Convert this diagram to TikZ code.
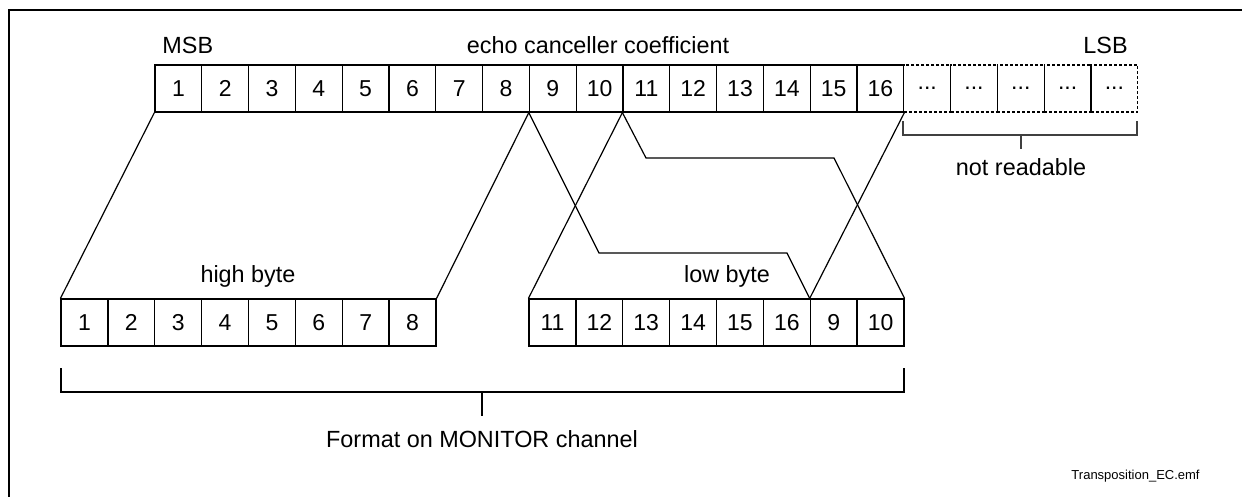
\documentclass[tikz,border=0pt]{standalone}
\usepackage{fontspec}
\setmainfont{Liberation Sans}
\begin{document}
\begin{tikzpicture}[x=0.5pt,y=-0.5pt,
  cell/.style={draw,line width=0.6pt,minimum width=23.4pt,minimum height=23.5pt,inner sep=0pt,font=\fontsize{11.5}{13}\selectfont},
  dcell/.style={cell,dash pattern=on 1.5pt off 1pt},
  lbl/.style={inner sep=0pt,font=\fontsize{11.7}{14}\selectfont},
  conn/.style={line width=0.6pt},
  brk/.style={line width=0.6pt}]
\useasboundingbox (0,0) rectangle (1242,497);
\draw[line width=1pt] (9,497) -- (9,10) -- (1242,10);
% top row
\foreach \i in {1,...,16}{
  \node[cell] (t\i) at ({155+(\i-0.5)*46.8},88.5) {\i};
}
\foreach \i in {1,...,5}{
  \node[dcell] (d\i) at ({903.8+(\i-0.5)*46.8},88.5) {...};
}
% bottom rows
\foreach \i in {1,...,8}{
  \node[cell] (h\i) at ({61+(\i-0.5)*46.875},322.5) {\i};
}
\foreach \v [count=\j] in {11,12,13,14,15,16,9,10}{
  \node[cell] (l\j) at ({529+(\j-0.5)*46.875},322.5) {\v};
}
% labels
\node[lbl,anchor=west] (msb) at (162,45) {MSB};
\node[lbl] (ecc) at (598,45) {echo canceller coefficient};
\node[lbl,anchor=east] (lsb) at (1128,45) {LSB};
\node[lbl] (hb) at (248,276) {high byte};
\node[lbl] (lb) at (727,276) {low byte};
\node[lbl] (nr) at (1021,167) {not readable};
\node[lbl] (fmt) at (482,439) {Format on MONITOR channel};
\node[inner sep=0pt,anchor=east,font=\fontsize{6.5}{8}\selectfont] (fn) at (1200,476) {Transposition\_EC.emf};
% connectors
\coordinate (c1) at (599,253);
\coordinate (c2) at (787,253);
\coordinate (c3) at (646,158);
\coordinate (c4) at (834,158);
\draw[conn] (t1.south west) -- (h1.north west);
\draw[conn] (t9.south west) -- (h8.north east);
\draw[conn] (t9.south west) -- (c1) -- (c2) -- (l7.north west);
\draw[conn] (t11.south west) -- (l1.north west);
\draw[conn] (t11.south west) -- (c3) -- (c4) -- (l8.north east);
\draw[conn] (t16.south east) -- (l7.north west);
% brackets
\coordinate (nrL) at (903,121);
\coordinate (nrR) at (1137,121);
\draw[brk,black!75] (nrL) -- (903,135) -- (1137,135) -- (nrR);
\draw[brk,black!75] (1021,135) -- (1021,149);
\coordinate (fbL) at (61,368);
\coordinate (fbR) at (904,368);
\draw[brk] (fbL) -- (61,392) -- (904,392) -- (fbR);
\draw[brk] (482,392) -- (482,416);
\end{tikzpicture}
\end{document}
